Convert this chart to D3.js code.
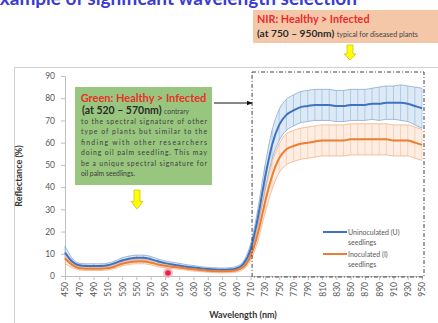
<!DOCTYPE html>
<html>
<head>
<meta charset="utf-8">
<script src="https://cdn.jsdelivr.net/npm/d3@7"></script>
<style>
  body { margin: 0; background: #fff; }
  svg { font-family: Lato, "Open Sans", sans-serif; }
</style>
</head>
<body>
<svg id="chart" width="438" height="323"></svg>
<script>
// Wavelengths (nm) and reflectance (%)
const wavelengths = d3.range(450, 951, 10);
const uMean = [10.5, 6.5, 4.8, 4.5, 4.5, 4.5, 4.8, 5.8, 7.0, 7.8,
  8.2, 8.2, 7.6, 6.6, 5.8, 5.2, 4.7, 4.2, 3.8, 3.4,
  3.1, 2.9, 2.8, 2.9, 3.4, 5.5, 12, 26, 44, 59,
  68, 72.5, 74.5, 76, 76.5, 77, 77, 77, 76.5, 76.5,
  77, 77, 77, 77.5, 77.5, 78, 78, 78, 77.5, 76.5, 75.5];
const uSd = [3, 1.5, 1, 1, 1, 1, 1, 1, 1.2, 1.2,
  1.2, 1.2, 1.2, 1.1, 1, 1, 1, 0.9, 0.9, 0.8,
  0.8, 0.8, 0.8, 0.8, 0.9, 1.2, 2.5, 4, 5.5, 6.5,
  7, 7, 7, 7, 7, 7, 7, 7, 7, 7,
  7, 7, 7, 7, 7.5, 7.5, 7.5, 8, 8, 8.5, 9];
const iMean = [8, 5, 3.5, 3.3, 3.3, 3.3, 3.5, 4.3, 5.5, 6.2,
  6.5, 6.5, 6.0, 5.2, 4.6, 4.2, 3.8, 3.4, 3.0, 2.7,
  2.4, 2.2, 2.1, 2.2, 2.6, 4.0, 9, 19, 33, 45,
  53, 57, 58.5, 59.5, 60, 60.5, 61, 61, 61, 61,
  61.5, 61.5, 61.5, 61.5, 61.5, 61.5, 61, 61, 61, 60, 59];
const iSd = [2.5, 1.2, 0.8, 0.8, 0.8, 0.8, 0.8, 0.9, 1, 1,
  1, 1, 1, 1, 0.9, 0.9, 0.8, 0.8, 0.8, 0.7,
  0.7, 0.7, 0.7, 0.7, 0.8, 1, 2, 3.5, 5, 6,
  6.5, 7, 7, 7, 7, 7, 7, 7, 7, 7,
  7, 7, 7, 7, 7, 7, 7, 7, 7, 7, 7];
const xTicks = d3.range(450, 951, 20);
const yTicks = d3.range(0, 91, 10);
const seriesNames = ["Uninoculated (U)", "Inoculated (I)"];

const svg = d3.select("#chart");
const x = d3.scaleLinear().domain([450, 950]).range([65, 422]);
const y = d3.scaleLinear().domain([0, 90]).range([276, 76]);

// slide title (cut off at top, as in the screenshot)
svg.append("text")
  .attr("x", 357).attr("y", 5)
  .attr("text-anchor", "end")
  .attr("font-size", 19).attr("font-weight", "bold")
  .attr("fill", "#3b3bd0")
  .text("Example of significant wavelength selection");

// outer chart frame
svg.append("rect")
  .attr("x", 14.5).attr("y", 67.5).attr("width", 440).attr("height", 270)
  .attr("fill", "none").attr("stroke", "#d0d0d0");

// axes
const yAxis = svg.append("g")
  .attr("transform", "translate(65,0)")
  .call(d3.axisLeft(y).tickValues(yTicks).tickSize(4).tickPadding(6));
const xAxis = svg.append("g")
  .attr("transform", "translate(0,276)")
  .call(d3.axisBottom(x).tickValues(xTicks).tickSize(4));
[yAxis, xAxis].forEach(g => {
  g.selectAll("path, line").attr("stroke", "#bfbfbf");
  g.selectAll("text").attr("fill", "#595959").attr("font-size", 8.5)
    .attr("font-family", "Lato, sans-serif");
});
xAxis.selectAll("text")
  .attr("transform", "rotate(-90)")
  .attr("text-anchor", "end")
  .attr("x", -6).attr("y", 0).attr("dy", "0.35em");

svg.append("text")
  .attr("transform", "translate(22,176) rotate(-90)")
  .attr("text-anchor", "middle")
  .attr("font-size", 9).attr("font-weight", "bold").attr("fill", "#333")
  .text("Reflectance (%)");
svg.append("text")
  .attr("x", 243).attr("y", 318)
  .attr("text-anchor", "middle")
  .attr("font-size", 9).attr("font-weight", "bold").attr("fill", "#333")
  .text("Wavelength (nm)");

// series with error bars
const series = [
  { mean: uMean, sd: uSd, color: "#3f72c0", light: "#9dc3e6", edge: "#7f9fc8" },
  { mean: iMean, sd: iSd, color: "#ed7d31", light: "#f8cbad", edge: "#f0a878" }
];
const curve = d3.curveMonotoneX;
series.forEach(s => {
  const pts = wavelengths.map((w, i) => ({ w, m: s.mean[i], sd: s.sd[i] }));
  svg.append("path").datum(pts)
    .attr("d", d3.area().curve(curve).x(d => x(d.w))
      .y0(d => y(d.m - d.sd)).y1(d => y(d.m + d.sd)))
    .attr("fill", s.light).attr("opacity", 0.35);
  const bars = svg.append("g");
  bars.selectAll("line.bar").data(pts).join("line")
    .attr("x1", d => x(d.w)).attr("x2", d => x(d.w))
    .attr("y1", d => y(d.m - d.sd)).attr("y2", d => y(d.m + d.sd))
    .attr("stroke", s.light).attr("stroke-width", 0.8);
  ["upper", "lower"].forEach(k => {
    svg.append("path").datum(pts)
      .attr("d", d3.line().curve(curve).x(d => x(d.w))
        .y(d => y(k === "upper" ? d.m + d.sd : d.m - d.sd)))
      .attr("fill", "none").attr("stroke", s.edge).attr("stroke-width", 0.7);
  });
});
series.forEach(s => {
  svg.append("path").datum(wavelengths.map((w, i) => [w, s.mean[i]]))
    .attr("d", d3.line().curve(curve).x(d => x(d[0])).y(d => y(d[1])))
    .attr("fill", "none").attr("stroke", s.color).attr("stroke-width", 2);
});

// legend
series.forEach((s, i) => {
  const ly = 232 + i * 22;
  svg.append("line")
    .attr("x1", 323).attr("x2", 347).attr("y1", ly).attr("y2", ly)
    .attr("stroke", s.color).attr("stroke-width", 2);
  const t = svg.append("text").attr("x", 348).attr("y", ly + 2.5)
    .attr("font-size", 7).attr("fill", "#595959");
  t.append("tspan").text(seriesNames[i]);
  t.append("tspan").attr("x", 348).attr("dy", 10).text("seedlings");
});

// dash-dot highlight rectangle
svg.append("rect")
  .attr("x", x(712)).attr("y", 72)
  .attr("width", x(950) - x(712) + 2).attr("height", 205)
  .attr("fill", "none").attr("stroke", "#404040").attr("stroke-width", 1)
  .attr("stroke-dasharray", "4,2,1,2");

// red marker
svg.append("circle").attr("cx", 168).attr("cy", 273).attr("r", 5)
  .attr("fill", "#f7a0b0").attr("opacity", 0.7);
svg.append("circle").attr("cx", 168).attr("cy", 273).attr("r", 2.8)
  .attr("fill", "#e8204a");

// green annotation box
svg.append("rect").attr("x", 75).attr("y", 87).attr("width", 137).attr("height", 98)
  .attr("fill", "#98c67f");
svg.append("text").attr("x", 143.5).attr("y", 102).attr("text-anchor", "middle")
  .attr("font-size", 11).attr("font-weight", "bold").attr("fill", "#e8312a")
  .text("Green: Healthy > Infected");
const g2 = svg.append("text").attr("x", 82).attr("y", 114).attr("fill", "#2b2b2b");
g2.append("tspan").attr("font-size", 10.5).attr("font-weight", "bold").text("(at 520 – 570nm) ");
g2.append("tspan").attr("font-size", 6.8).attr("fill", "#444").text("contrary");
const greenLines = ["to the spectral signature of other", "type of plants but similar to the",
  "finding with other researchers", "doing oil palm seedling. This may",
  "be a unique spectral signature for", "oil palm seedlings."];
greenLines.forEach((l, i) => {
  const t = svg.append("text").attr("x", 81).attr("y", 124 + i * 10.4)
    .attr("font-size", 6.8).attr("fill", "#404040").text(l);
  if (i < greenLines.length - 1) t.attr("textLength", 126).attr("lengthAdjust", "spacing");
});

// arrow from green box to rectangle
svg.append("defs").append("marker").attr("id", "ah")
  .attr("viewBox", "0 0 10 10").attr("refX", 9).attr("refY", 5)
  .attr("markerWidth", 6).attr("markerHeight", 6).attr("orient", "auto")
  .append("path").attr("d", "M0,1L10,5L0,9Z").attr("fill", "#111");
svg.append("line").attr("x1", 214).attr("x2", 252).attr("y1", 103).attr("y2", 103)
  .attr("stroke", "#111").attr("stroke-width", 1).attr("marker-end", "url(#ah)");

// NIR annotation box
svg.append("rect").attr("x", 253).attr("y", 10).attr("width", 190).attr("height", 33)
  .attr("fill", "#f5c7a9");
svg.append("text").attr("x", 257).attr("y", 23)
  .attr("font-size", 10.8).attr("font-weight", "bold").attr("fill", "#ee2a2a")
  .text("NIR: Healthy > Infected");
const n2 = svg.append("text").attr("x", 257).attr("y", 37).attr("fill", "#2b2b2b");
n2.append("tspan").attr("font-size", 10.2).attr("font-weight", "bold").text("(at 750 – 950nm) ");
n2.append("tspan").attr("font-size", 7.2).attr("fill", "#444").text("typical for diseased plants");

// yellow down arrows
function downArrow(cx, top, h) {
  const sw = 3, hw = 6, hh = h * 0.4;
  svg.append("path")
    .attr("d", `M${cx - sw},${top}L${cx + sw},${top}L${cx + sw},${top + h - hh}L${cx + hw},${top + h - hh}` +
      `L${cx},${top + h}L${cx - hw},${top + h - hh}L${cx - sw},${top + h - hh}Z`)
    .attr("fill", "#ffff00").attr("stroke", "#cfc21a").attr("stroke-width", 0.8);
}
downArrow(350, 45, 15);
downArrow(137, 190, 19);
</script>
</body>
</html>
